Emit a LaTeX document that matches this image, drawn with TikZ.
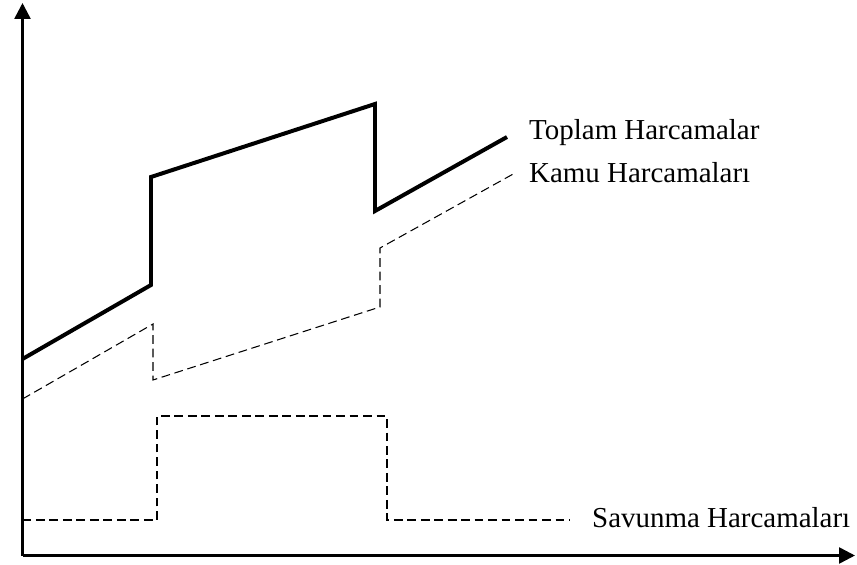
\documentclass[tikz,border=0pt]{standalone}
\usepackage{fontspec}
\setmainfont{Liberation Serif}
\usetikzlibrary{arrows.meta}
\begin{document}
\begin{tikzpicture}[x=0.03cm, y=-0.03cm,
	axis/.style={line width=2.2pt, -{Triangle[length=0.48cm, width=0.48cm]}},
	toplam/.style={line width=3.4pt},
	kesik/.style={line width=0.9pt, dash pattern=on 7.5pt off 4pt},
	etiket/.style={anchor=base west, inner sep=0pt, font=\fontsize{24.7}{30}\selectfont}]

	\useasboundingbox (0,0) rectangle (857,565);

	\coordinate (O) at (22.5,555.5);
	\draw[axis] (O) -- (22.5,3);
	\draw[axis] (O) -- (855,555.5);

	\draw[toplam] (22.5,359) -- (151,285) -- (151,177) -- (375,104) -- (375,211) -- (507,137);
	\draw[kesik] (22.5,399) -- (153,324) -- (153,380) -- (380,307) -- (380,248) -- (515,173);
	\draw[kesik] (22.5,520) -- (157,520) -- (157,416) -- (387,416) -- (387,520) -- (570,520);

	\node[etiket] (toplam) at (529,140) {Toplam Harcamalar};
	\node[etiket] (kamu) at (529,183) {Kamu Harcamaları};
	\node[etiket] (savunma) at (592,527) {Savunma Harcamaları};
\end{tikzpicture}
\end{document}
